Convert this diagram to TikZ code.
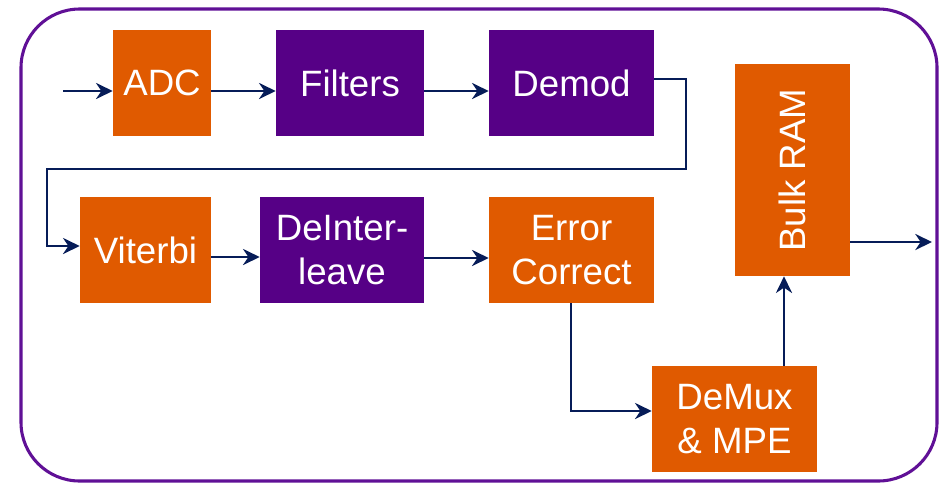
\documentclass[tikz,border=0pt]{standalone}
\usepackage{fontspec}
\setmainfont{Liberation Sans}
\usetikzlibrary{arrows.meta,calc}

\definecolor{blkorange}{RGB}{224,90,0}
\definecolor{blkpurple}{RGB}{86,0,134}
\definecolor{framepurple}{RGB}{96,16,150}
\definecolor{wire}{RGB}{6,28,88}

\tikzset{
  blk/.style={rectangle, inner sep=0pt, text=white, align=center,
    font=\fontsize{27.5}{33}\selectfont, minimum height=79.5pt},
  orangeblk/.style={blk, fill=blkorange},
  purpleblk/.style={blk, fill=blkpurple},
  wire/.style={draw=wire, line width=2.1pt,
    -{Stealth[length=12.5pt,width=12pt,inset=4pt]}}
}

\begin{document}
\begin{tikzpicture}[x=0.75pt,y=-0.75pt]
  \useasboundingbox (0,0) rectangle (944,483);

  % enclosing frame
  \draw[framepurple, line width=2.3pt, rounded corners=44pt]
    (21,9) rectangle (937,481);

  % processing blocks
  \node[orangeblk, minimum width=73.5pt]   (adc)     at (162,83)    {ADC};
  \node[purpleblk, minimum width=111pt]    (filters) at (350,83)    {Filters};
  \node[purpleblk, minimum width=123.75pt] (demod)   at (571.5,83)  {Demod};
  \node[orangeblk, minimum width=98.25pt]  (viterbi) at (145.5,250) {Viterbi};
  \node[purpleblk, minimum width=123pt]    (deint)   at (342,250)   {DeInter-\\leave};
  \node[orangeblk, minimum width=123.75pt] (errc)    at (571.5,250) {Error\\Correct};
  \node[orangeblk, minimum width=123.75pt] (demux)   at (734.5,419) {DeMux\\\& MPE};
  \node[orangeblk, minimum width=86.25pt, minimum height=159pt]
                                           (bulk)    at (792.5,170) {};
  \node[text=white, font=\fontsize{27.5}{33}\selectfont, rotate=90]
                                           (bulklbl) at (bulk.center) {Bulk RAM};

  % routing points
  \coordinate (inpt)   at (63,91);
  \coordinate (row1)   at (0,91);
  \coordinate (dmout)  at (0,79);
  \coordinate (turnr)  at (686,169);
  \coordinate (turnl)  at (47,169);
  \coordinate (vin)    at (0,246);
  \coordinate (row2a)  at (0,257);
  \coordinate (row2b)  at (0,258);
  \coordinate (ecdown) at (571,411);
  \coordinate (upx)    at (784,0);
  \coordinate (outy)   at (0,242);
  \coordinate (outpt)  at (932,242);

  % signal flow
  \draw[wire] (inpt) -- (adc.west |- inpt);
  \draw[wire] (adc.east |- row1) -- (filters.west |- row1);
  \draw[wire] (filters.east |- row1) -- (demod.west |- row1);
  \draw[wire] (demod.east |- dmout) -| (turnr) -- (turnl) |- (viterbi.west |- vin);
  \draw[wire] (viterbi.east |- row2a) -- (deint.west |- row2a);
  \draw[wire] (deint.east |- row2b) -- (errc.west |- row2b);
  \draw[wire] (errc.south -| ecdown) -- (ecdown) -- (demux.west |- ecdown);
  \draw[wire] (demux.north -| upx) -- (bulk.south -| upx);
  \draw[wire] (bulk.east |- outy) -- (outpt);
\end{tikzpicture}
\end{document}
